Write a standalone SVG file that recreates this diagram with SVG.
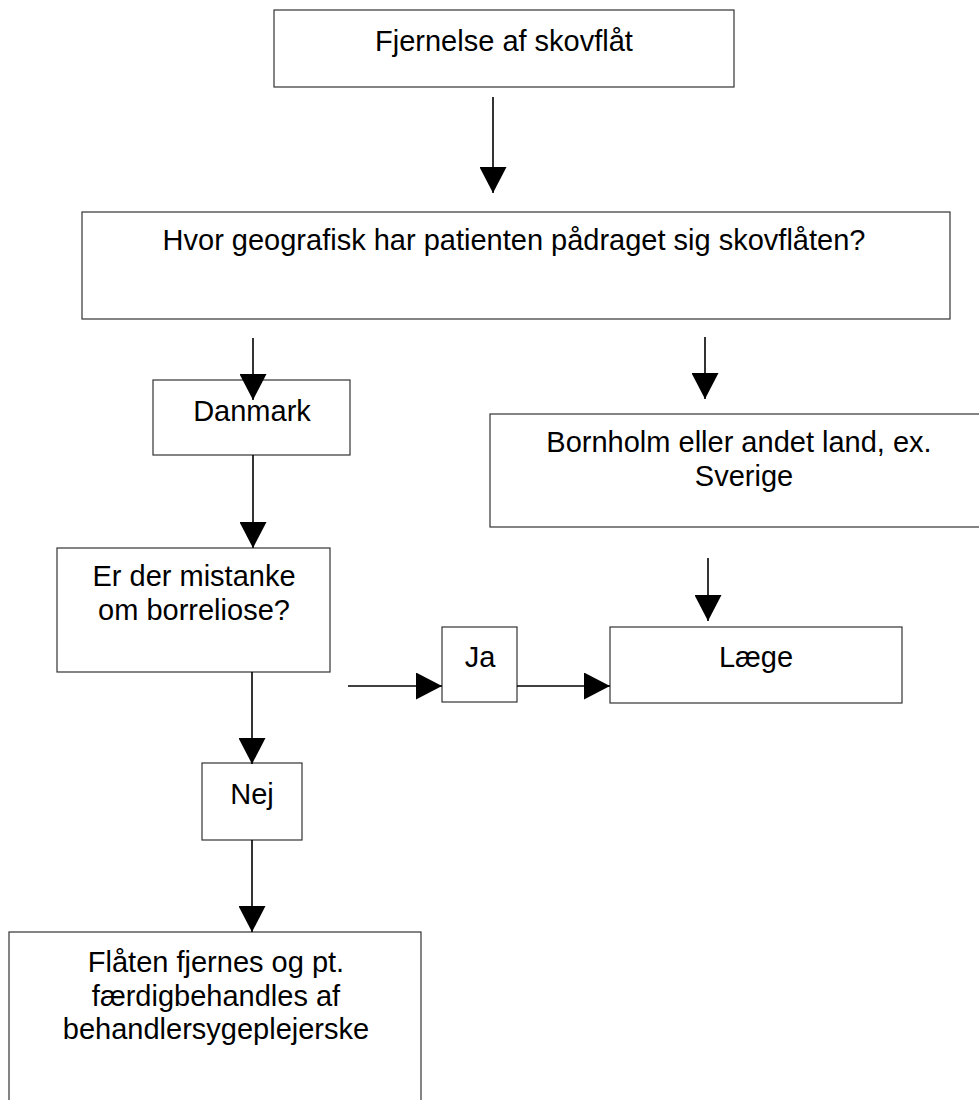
<svg xmlns="http://www.w3.org/2000/svg" width="979" height="1100" viewBox="0 0 979 1100">
  <style>
    .box { fill: #ffffff; stroke: #333333; stroke-width: 1.2; }
    .lbl { font-family: "Liberation Sans", Arial, sans-serif; font-size: 29px; fill: #000000; text-anchor: middle; }
    .edge { stroke: #000000; stroke-width: 1.6; fill: none; marker-end: url(#head); }
  </style>
  <defs>
    <marker id="head" viewBox="0 0 26 27" refX="26" refY="13.5" markerWidth="26" markerHeight="27" markerUnits="userSpaceOnUse" orient="auto">
      <path d="M0,0 L26,13.5 L0,27 Z" fill="#000000"/>
    </marker>
  </defs>
  <rect width="979" height="1100" fill="#ffffff"/>

  <g id="fjernelse">
    <rect class="box" x="274" y="10" width="460" height="77"/>
    <text class="lbl" x="504" y="51">Fjernelse af skovflåt</text>
  </g>

  <g id="geografi">
    <rect class="box" x="82" y="212" width="868" height="107"/>
    <text class="lbl" x="514" y="250">Hvor geografisk har patienten pådraget sig skovflåten?</text>
  </g>

  <g id="danmark">
    <rect class="box" x="153" y="380" width="197" height="75"/>
    <text class="lbl" x="252" y="421">Danmark</text>
  </g>

  <g id="bornholm">
    <rect class="box" x="490" y="414" width="500" height="113"/>
    <text class="lbl" x="739" y="452">Bornholm eller andet land, ex.</text>
    <text class="lbl" x="744" y="486">Sverige</text>
  </g>

  <g id="borreliose">
    <rect class="box" x="57" y="548" width="273" height="124"/>
    <text class="lbl" x="194" y="586">Er der mistanke</text>
    <text class="lbl" x="194" y="620">om borreliose?</text>
  </g>

  <g id="ja">
    <rect class="box" x="442" y="627" width="75" height="75"/>
    <text class="lbl" x="480" y="667">Ja</text>
  </g>

  <g id="laege">
    <rect class="box" x="610" y="627" width="292" height="76"/>
    <text class="lbl" x="756" y="667">Læge</text>
  </g>

  <g id="nej">
    <rect class="box" x="202" y="763" width="100" height="77"/>
    <text class="lbl" x="252" y="804">Nej</text>
  </g>

  <g id="behandling">
    <rect class="box" x="9" y="932" width="412" height="190"/>
    <text class="lbl" x="216" y="972">Flåten fjernes og pt.</text>
    <text class="lbl" x="216" y="1005.5">færdigbehandles af</text>
    <text class="lbl" x="216" y="1039">behandlersygeplejerske</text>
  </g>

  <!-- arrows are drawn last so heads that overlap a box edge stay visible -->
  <g id="connectors">
    <line class="edge" x1="493" y1="97" x2="493" y2="193"/>
    <line class="edge" x1="253" y1="338" x2="253" y2="400"/>
    <line class="edge" x1="705" y1="337" x2="705" y2="399"/>
    <line class="edge" x1="253" y1="455" x2="253" y2="548"/>
    <line class="edge" x1="708" y1="558" x2="708" y2="621"/>
    <line class="edge" x1="252" y1="672" x2="252" y2="764"/>
    <line class="edge" x1="252" y1="840" x2="252" y2="932"/>
    <line class="edge" x1="348" y1="686" x2="442" y2="686"/>
    <line class="edge" x1="517" y1="686" x2="610" y2="686"/>
  </g>
</svg>
